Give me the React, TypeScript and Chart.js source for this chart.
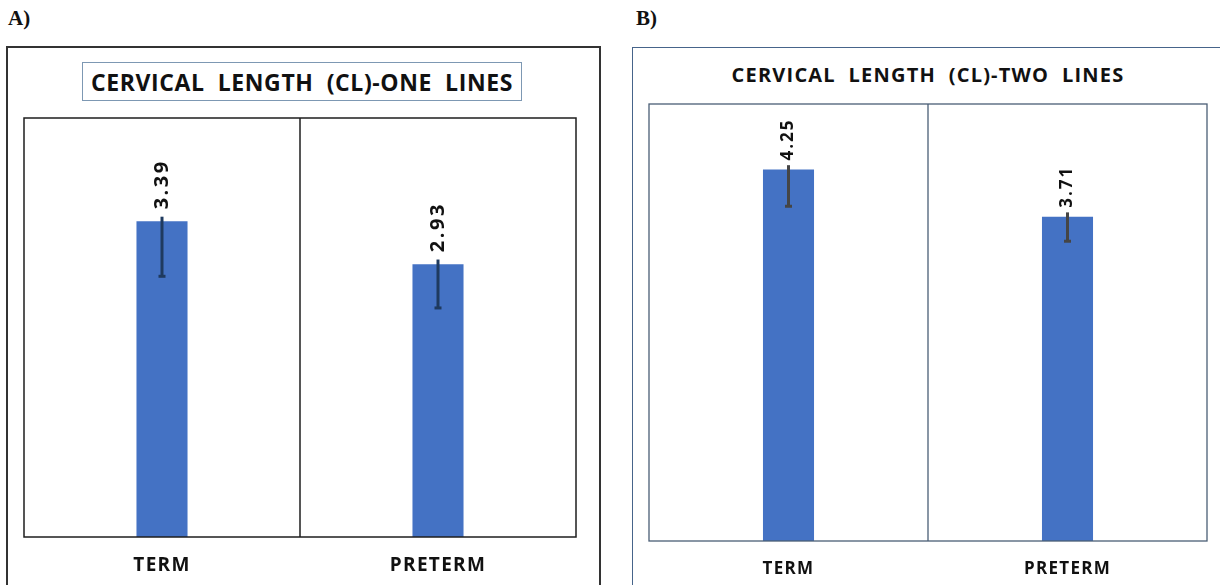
import React, { useEffect, useRef } from "react";
import { Chart, registerables } from "chart.js";

Chart.register(...registerables);

const categories = ["TERM", "PRETERM"];
const oneLineMeans = [3.39, 2.93];
const oneLineErrPlus = [0.05, 0.05];
const oneLineErrMinus = [0.59, 0.47];
const twoLineMeans = [4.25, 3.71];
const twoLineErrPlus = [0.05, 0.05];
const twoLineErrMinus = [0.42, 0.28];
const oneLineTitle = "CERVICAL  LENGTH  (CL)-ONE  LINES";
const twoLineTitle = "CERVICAL  LENGTH  (CL)-TWO  LINES";
const panelLabels = ["A)", "B)"];

type PanelCfg = {
  values: number[];
  errPlus: number[];
  errMinus: number[];
  yMax: number;
  barPct: number;
  padding: { left: number; right: number; top: number; bottom: number };
  frameColor: string;
  frameWidth: number;
  errColor: string;
  labelFont: string;
  labelSpacing: string;
  labelGap: number;
  catFont: string;
  catSpacing: string;
  catOffset: number;
};

function makeOverlay(cfg: PanelCfg) {
  return {
    id: "overlay",
    afterDatasetsDraw(chart: any) {
      const { ctx, chartArea: ca } = chart;
      const xs = chart.scales.x;
      const ys = chart.scales.y;
      ctx.save();
      ctx.strokeStyle = cfg.frameColor;
      ctx.lineWidth = cfg.frameWidth;
      ctx.strokeRect(ca.left, ca.top, ca.right - ca.left, ca.bottom - ca.top);
      const mid = (xs.getPixelForValue(0) + xs.getPixelForValue(1)) / 2;
      ctx.beginPath();
      ctx.moveTo(mid, ca.top);
      ctx.lineTo(mid, ca.bottom);
      ctx.stroke();

      cfg.values.forEach((v, i) => {
        const cx = xs.getPixelForValue(i);
        const yTop = ys.getPixelForValue(v + cfg.errPlus[i]);
        const yBot = ys.getPixelForValue(v - cfg.errMinus[i]);
        ctx.strokeStyle = cfg.errColor;
        ctx.lineWidth = 3;
        ctx.beginPath();
        ctx.moveTo(cx, yTop);
        ctx.lineTo(cx, yBot);
        ctx.stroke();
        ctx.beginPath();
        ctx.moveTo(cx - 3.5, yBot);
        ctx.lineTo(cx + 3.5, yBot);
        ctx.stroke();

        const yBar = ys.getPixelForValue(v);
        ctx.save();
        ctx.translate(cx, yBar - cfg.labelGap);
        ctx.rotate(-Math.PI / 2);
        ctx.fillStyle = "#111";
        ctx.font = cfg.labelFont;
        (ctx as any).letterSpacing = cfg.labelSpacing;
        ctx.textAlign = "left";
        ctx.textBaseline = "middle";
        ctx.fillText(v.toFixed(2), 0, 0);
        ctx.restore();

        ctx.save();
        ctx.fillStyle = "#111";
        ctx.font = cfg.catFont;
        (ctx as any).letterSpacing = cfg.catSpacing;
        ctx.textAlign = "center";
        ctx.textBaseline = "middle";
        ctx.fillText(categories[i], cx, ca.bottom + cfg.catOffset);
        ctx.restore();
      });
      ctx.restore();
    },
  };
}

function Panel({ cfg, width, height, style }: { cfg: PanelCfg; width: number; height: number; style: React.CSSProperties }) {
  const ref = useRef<HTMLCanvasElement | null>(null);
  useEffect(() => {
    if (!ref.current) return;
    const chart = new Chart(ref.current, {
      type: "bar",
      data: {
        labels: categories,
        datasets: [
          {
            data: cfg.values,
            backgroundColor: "#4472C4",
            borderWidth: 0,
            barPercentage: cfg.barPct,
            categoryPercentage: 1,
          },
        ],
      },
      options: {
        responsive: false,
        animation: false,
        layout: { padding: cfg.padding },
        plugins: { legend: { display: false }, tooltip: { enabled: false }, title: { display: false } },
        scales: {
          x: { display: false },
          y: { display: false, min: 0, max: cfg.yMax },
        },
      },
      plugins: [makeOverlay(cfg) as any],
    });
    return () => chart.destroy();
  }, []);
  return <canvas ref={ref} width={width} height={height} style={{ position: "absolute", ...style }} />;
}

const cfgA: PanelCfg = {
  values: oneLineMeans,
  errPlus: oneLineErrPlus,
  errMinus: oneLineErrMinus,
  yMax: 4.5,
  barPct: 0.185,
  padding: { left: 16, right: 22, top: 13, bottom: 48 },
  frameColor: "#1e1e1e",
  frameWidth: 1.5,
  errColor: "#1f3a5f",
  labelFont: 'bold 20px "Open Sans"',
  labelSpacing: "2.5px",
  labelGap: 12,
  catFont: 'bold 19px "Open Sans"',
  catSpacing: "1.3px",
  catOffset: 29,
};

const cfgB: PanelCfg = {
  values: twoLineMeans,
  errPlus: twoLineErrPlus,
  errMinus: twoLineErrMinus,
  yMax: 5,
  barPct: 0.183,
  padding: { left: 15, right: 13, top: 4, bottom: 44 },
  frameColor: "#4a5e76",
  frameWidth: 1.3,
  errColor: "#454545",
  labelFont: 'bold 17px "Open Sans"',
  labelSpacing: "2px",
  labelGap: 9,
  catFont: 'bold 17px "Open Sans"',
  catSpacing: "1.3px",
  catOffset: 28,
};

export default function App() {
  return (
    <div style={{ position: "absolute", left: 0, top: 0, width: 1220, height: 585, overflow: "hidden", background: "#fff" }}>
      <div style={{ position: "absolute", left: 8, top: 6, font: 'bold 21px "Liberation Serif"', color: "#111" }}>{panelLabels[0]}</div>
      <div style={{ position: "absolute", left: 636, top: 6, font: 'bold 21px "Liberation Serif"', color: "#111" }}>{panelLabels[1]}</div>

      <div style={{ position: "absolute", left: 6, top: 46, width: 595, height: 560, border: "2px solid #333", boxSizing: "border-box" }} />
      <div
        style={{
          position: "absolute", left: 82, top: 62, width: 440, height: 39, border: "1.5px solid #7d98b3", boxSizing: "border-box",
          display: "flex", alignItems: "center", justifyContent: "center", font: 'bold 23px "Open Sans"', letterSpacing: "0.6px",
          color: "#111", whiteSpace: "pre",
        }}
      >
        {oneLineTitle}
      </div>
      <Panel cfg={cfgA} width={590} height={480} style={{ left: 8, top: 105 }} />

      <div style={{ position: "absolute", left: 632, top: 47, width: 600, height: 560, border: "1.5px solid #46648a", boxSizing: "border-box" }} />
      <div
        style={{
          position: "absolute", left: 678, top: 60, width: 500, height: 28, display: "flex", alignItems: "center", justifyContent: "center",
          font: 'bold 20px "Open Sans"', letterSpacing: "1.2px", color: "#111", whiteSpace: "pre",
        }}
      >
        {twoLineTitle}
      </div>
      <Panel cfg={cfgB} width={586} height={485} style={{ left: 634, top: 100 }} />
    </div>
  );
}
